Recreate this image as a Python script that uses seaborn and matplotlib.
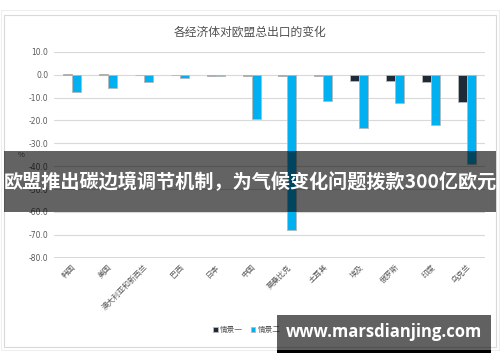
import matplotlib
matplotlib.use("Agg")
import matplotlib.pyplot as plt
import seaborn as sns
import pandas as pd
from matplotlib.patches import Rectangle

categories = ["韩国", "美国", "澳大利亚和新西兰", "巴西", "日本", "中国", "莫桑比克",
              "土耳其", "埃及", "俄罗斯", "印度", "乌克兰"]
scenario1 = [0.3, 0.2, -0.3, -0.3, -0.4, -0.4, -0.4, -0.8, -2.6, -2.8, -3.0, -11.9]
scenario2 = [-7.6, -5.8, -3.0, -1.6, -0.8, -19.2, -67.7, -11.3, -23.3, -12.2, -22.0, -38.9]
series_names = ["情景一", "情景二"]
title = "各经济体对欧盟总出口的变化"
banner = "欧盟推出碳边境调节机制，为气候变化问题拨款300亿欧元"
watermark = "www.marsdianjing.com"

sns.set_theme(style="white")
plt.rcParams["font.family"] = ["Noto Sans CJK SC", "DejaVu Sans"]

df = pd.DataFrame({
    "cat": categories * 2,
    "val": scenario1 + scenario2,
    "series": [series_names[0]] * len(categories) + [series_names[1]] * len(categories),
})

fig = plt.figure(figsize=(5, 3.62), dpi=100)
ax = fig.add_axes([0.108, 0.288, 0.862, 0.569])

sns.barplot(data=df, x="cat", y="val", hue="series", palette=["#1f2a38", "#00b0f0"],
            saturation=1, width=0.5, gap=0, edgecolor="#b8b8b8", linewidth=0.6,
            ax=ax, errorbar=None)

ax.set_ylim(-80, 10)
ax.set_yticks(range(-80, 11, 10))
ax.set_yticklabels([f"{v:.1f}" for v in range(-80, 11, 10)], fontsize=5.5, color="#595959",
                   family=["DejaVu Sans"])
ax.set_xlim(-0.5, len(categories) - 0.5)
ax.set_xticks(range(len(categories)))
ax.set_xticklabels(categories, rotation=45, ha="right", rotation_mode="anchor",
                   fontsize=5.5, color="#595959")
ax.tick_params(axis="both", length=0, pad=4)
ax.set_xlabel("")
ax.set_ylabel("")
for s in ax.spines.values():
    s.set_visible(False)
ax.grid(axis="y", color="#d9d9d9", linewidth=0.8)
ax.axhline(-80, color="#d0d0d0", linewidth=1.2, zorder=0.5)
ax.set_axisbelow(True)

handles, labels = ax.get_legend_handles_labels()
ax.legend(handles, labels, loc="center", bbox_to_anchor=(0.494, 0.088),
          bbox_transform=fig.transFigure, ncol=2, frameon=False, fontsize=5.5,
          handlelength=0.6, handleheight=0.6, handletextpad=0.3, columnspacing=1.0,
          labelcolor="#595959")

fig.text(0.5, 0.912, title, ha="center", va="center", fontsize=8.5, color="#505050",
         fontweight="medium")
fig.text(0.042, 0.572, "%", ha="center", va="center", fontsize=5.5, color="#595959")

# outer frames
fig.patches.append(Rectangle((0.002, 1 - 350 / 362), 0.996, 340 / 362, transform=fig.transFigure,
                             fill=False, edgecolor="#eeeeee", linewidth=0.8))
fig.patches.append(Rectangle((0.008, 1 - 347 / 362), 0.984, 332 / 362, transform=fig.transFigure,
                             fill=False, edgecolor="#d9d9d9", linewidth=0.8))

# banner overlay
fig.patches.append(Rectangle((0.008, 1 - 212 / 362), 0.984, 61 / 362, transform=fig.transFigure,
                             facecolor="black", alpha=0.61, edgecolor="none", zorder=10))
fig.text(0.5, 1 - 182 / 362, banner, ha="center", va="center", fontsize=13.8,
         fontweight="bold", color="white", zorder=11)

# watermark box
fig.patches.append(Rectangle((277 / 500, 1 - 350 / 362), 214 / 500, 35 / 362, transform=fig.transFigure,
                             facecolor="black", alpha=0.62, edgecolor="none", zorder=10))
fig.patches.append(Rectangle((277 / 500, 1 - 353 / 362), 214 / 500, 3 / 362, transform=fig.transFigure,
                             facecolor="black", edgecolor="none", zorder=10))
fig.text(384 / 500, 1 - 332 / 362, watermark, ha="center", va="center", fontsize=12.0,
         fontweight="bold", color="white", family=["Open Sans", "DejaVu Sans"], zorder=11)

fig.savefig("out.png", dpi=100, facecolor="white")
